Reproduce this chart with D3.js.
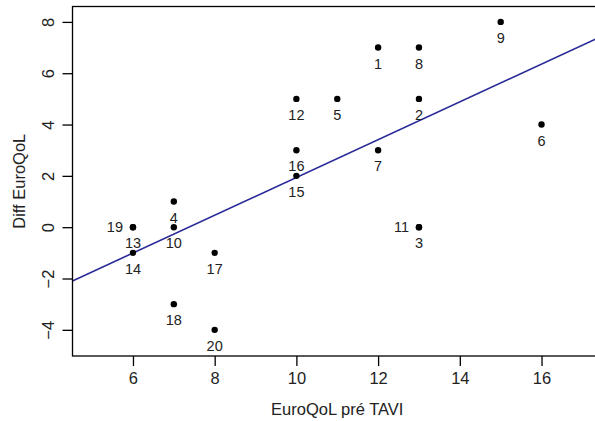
<!DOCTYPE html>
<html><head><meta charset="utf-8">
<script src="https://cdn.jsdelivr.net/npm/d3@7"></script>
<style>body{margin:0;background:#fff}svg{display:block}text{font-family:"Liberation Sans",Arial,sans-serif;fill:#222}</style>
</head><body>
<script>
const ids    = [1,2,3,4,5,6,7,8,9,10,11,12,13,14,15,16,17,18,19,20];
const xVals  = [12,13,13,7,11,16,12,13,15,7,13,10,6,6,10,10,8,7,6,8];
const yVals  = [7,5,0,1,5,4,3,7,8,0,0,5,0,-1,2,3,-1,-3,0,-4];
const labelPos = ["below","below","below","below","below","below","below","below","below","below","left","below","below","below","below","below","below","below","left","below"];
const xTicks = [6,8,10,12,14,16];
const yTicks = [-4,-2,0,2,4,6,8];
const xTitle = "EuroQoL pré TAVI";
const yTitle = "Diff EuroQoL";

const W=595,H=421;
const box={l:72.5,t:6.5,r:602,b:356};
const x=d3.scaleLinear().domain([4.52,17.48]).range([box.l,box.r]);
const y=d3.scaleLinear().domain([-5.02,8.6]).range([box.b,box.t]);

const svg=d3.select("body").append("svg").attr("width",W).attr("height",H);

// regression line (least squares from data)
const mx=d3.mean(xVals), my=d3.mean(yVals);
const sxy=d3.sum(xVals,(v,i)=>(v-mx)*(yVals[i]-my));
const sxx=d3.sum(xVals,v=>(v-mx)*(v-mx));
const slope=sxy/sxx, intercept=my-slope*mx;
const xd=x.domain();
svg.append("clipPath").attr("id","c").append("rect").attr("x",box.l).attr("y",box.t).attr("width",box.r-box.l).attr("height",box.b-box.t);
svg.append("line").attr("clip-path","url(#c)")
  .attr("x1",x(xd[0])).attr("y1",y(intercept+slope*xd[0]))
  .attr("x2",x(xd[1])).attr("y2",y(intercept+slope*xd[1]))
  .attr("stroke","#2a2a98").attr("stroke-width",1.6);

// box
svg.append("rect").attr("x",box.l).attr("y",box.t).attr("width",box.r-box.l).attr("height",box.b-box.t)
  .attr("fill","none").attr("stroke","#000").attr("stroke-width",1.3);

// axes
const gx=svg.append("g").attr("transform",`translate(0,${box.b})`)
  .call(d3.axisBottom(x).tickValues(xTicks).tickSize(10).tickPadding(6).tickFormat(d3.format("d")));
gx.select(".domain").remove();
gx.selectAll("line").attr("stroke","#000").attr("stroke-width",1.3);
gx.selectAll("text").attr("font-size",16.5).attr("font-family","Liberation Sans, Arial, sans-serif").attr("fill","#222");

const gy=svg.append("g").attr("transform",`translate(${box.l},0)`)
  .call(d3.axisLeft(y).tickValues(yTicks).tickSize(10).tickFormat(d=>d<0?"\u2212"+Math.abs(d):d));
gy.select(".domain").remove();
gy.selectAll("line").attr("stroke","#000").attr("stroke-width",1.3);
gy.selectAll("text").attr("font-size",16.5).attr("font-family","Liberation Sans, Arial, sans-serif").attr("fill","#222")
  .attr("x",null).attr("dy",null).attr("text-anchor","middle")
  .attr("transform","translate(-24,0) rotate(-90)").attr("dy","0.35em");

// titles
svg.append("text").attr("x",(box.l+box.r)/2).attr("y",415).attr("text-anchor","middle").attr("font-size",16.5).text(xTitle);
svg.append("text").attr("transform",`translate(25,${(box.t+box.b)/2}) rotate(-90)`).attr("text-anchor","middle").attr("font-size",16.5).text(yTitle);

// points
svg.append("g").selectAll("circle").data(ids).join("circle")
  .attr("cx",(d,i)=>x(xVals[i])).attr("cy",(d,i)=>y(yVals[i])).attr("r",3.2).attr("fill","#000");

// labels
svg.append("g").selectAll("text").data(ids).join("text")
  .attr("x",(d,i)=>labelPos[i]==="left"?x(xVals[i])-10:x(xVals[i]))
  .attr("y",(d,i)=>labelPos[i]==="left"?y(yVals[i])+5:y(yVals[i])+21)
  .attr("text-anchor",(d,i)=>labelPos[i]==="left"?"end":"middle")
  .attr("font-size",14.5).text(d=>d);
</script>
</body></html>
